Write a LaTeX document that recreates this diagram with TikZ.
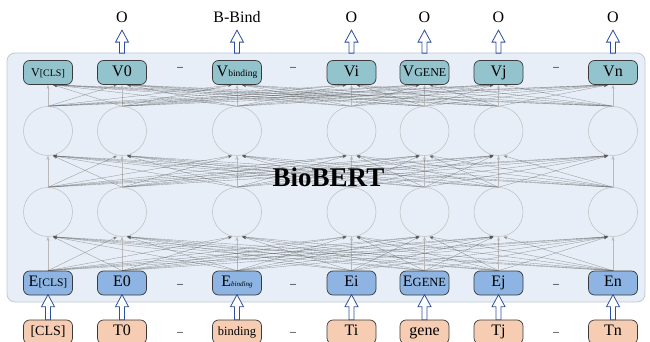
\documentclass[tikz,border=0pt]{standalone}
\usepackage{fontspec}
\setmainfont{Liberation Serif}
\usetikzlibrary{arrows.meta,calc}
\definecolor{panelfill}{HTML}{E7EEF7}
\definecolor{panelline}{HTML}{C3C9D1}
\definecolor{vfill}{HTML}{93C3CC}
\definecolor{efill}{HTML}{8DB4E2}
\definecolor{tfill}{HTML}{F6CDB3}
\definecolor{boxline}{HTML}{3A3A3A}
\definecolor{circline}{HTML}{BDBDBD}
\definecolor{linegray}{HTML}{555555}
\definecolor{arrowblue}{HTML}{2E4F9E}
\pgfdeclarelayer{panel}
\pgfdeclarelayer{edges}
\pgfsetlayers{panel,edges,main}
\newcommand\fs[1]{\fontsize{#1}{#1}\selectfont}
\begin{document}
\begin{tikzpicture}[x=1pt,y=-1pt,
 box/.style={draw=boxline, line width=0.7pt, rounded corners=6pt, minimum width=49pt, minimum height=24pt, inner sep=0pt, text height=10.5pt, text depth=3pt, font=\fs{16}},
 vbox/.style={box, fill=vfill},
 ebox/.style={box, fill=efill},
 tbox/.style={box, fill=tfill},
 neuron/.style={circle, draw=circline, line width=0.5pt, minimum size=49pt, inner sep=0pt},
 cross/.style={draw=linegray, line width=0.35pt, opacity=0.55, -{Stealth[length=4pt,width=3pt]}},
 straight/.style={draw=gray!55, line width=0.35pt, -{Stealth[length=4pt,width=3pt]}},
 hollow/.style={draw=arrowblue, fill=white, line width=0.8pt, line join=miter},
 pics/hup/.style={code={\path[hollow] (-2.5,0) -- (-2.5,-#1+12) -- (-6.5,-#1+12) -- (0,-#1) -- (6.5,-#1+12) -- (2.5,-#1+12) -- (2.5,0) -- cycle;}},
 dots/.style={font=\fs{8}\bfseries, anchor=base, inner sep=0pt},
 lab/.style={font=\fs{16}, anchor=base, inner sep=0pt}
]
\useasboundingbox (0,0) rectangle (650,342);
\begin{pgfonlayer}{panel}
\path[draw=panelline, fill=panelfill, line width=0.8pt, rounded corners=8pt] (7,53) rectangle (645,302);
\end{pgfonlayer}
% columns
\def\xa{48}\def\xb{122}\def\xc{237}\def\xd{351.5}\def\xe{424.5}\def\xf{498.5}\def\xg{613}
% V row
\node[vbox] (v1) at (\xa,72.5) {\fs{12}V\fs{10}[CLS]};
\node[vbox] (v2) at (\xb,72.5) {V0};
\node[vbox] (v3) at (\xc,72.5) {V\fs{9.5}binding};
\node[vbox] (v4) at (\xd,72.5) {Vi};
\node[vbox] (v5) at (\xe,72.5) {V\fs{12}GENE};
\node[vbox] (v6) at (\xf,72.5) {Vj};
\node[vbox] (v7) at (\xg,72.5) {Vn};
% neurons
\foreach \n/\x in {1/\xa,2/\xb,3/\xc,4/\xd,5/\xe,6/\xf,7/\xg}{
  \node[neuron] (ca\n) at (\x,131) {};
  \node[neuron] (cb\n) at (\x,212) {};
}
% E row
\node[ebox] (e1) at (\xa,283) {E\fs{11.5}[CLS]};
\node[ebox] (e2) at (\xb,283) {E0};
\node[ebox] (e3) at (\xc,283) {E\fs{7}\itshape binding};
\node[ebox] (e4) at (\xd,283) {Ei};
\node[ebox] (e5) at (\xe,283) {E\fs{12.5}GENE};
\node[ebox] (e6) at (\xf,283) {Ej};
\node[ebox] (e7) at (\xg,283) {En};
% T row
\node[tbox] (t1) at (\xa,332) {\fs{14}[CLS]};
\node[tbox] (t2) at (\xb,332) {T0};
\node[tbox] (t3) at (\xc,332) {\fs{12.5}binding};
\node[tbox] (t4) at (\xd,332) {Ti};
\node[tbox] (t5) at (\xe,332) {gene};
\node[tbox] (t6) at (\xf,332) {Tj};
\node[tbox] (t7) at (\xg,332) {Tn};
% dots
\foreach \x in {180,293,556}{
  \node[dots] at (\x,69) {...};
  \node[dots] at (\x,285) {...};
  \node[dots] at (\x,333) {...};
}
% output labels
\node[lab] (o2) at (\xb,23) {O};
\node[lab] (o3) at (\xc,23) {B-Bind};
\node[lab] (o4) at (\xd,23) {O};
\node[lab] (o5) at (\xe,23) {O};
\node[lab] (o6) at (\xf,23) {O};
\node[lab] (o7) at (\xg,23) {O};
% BioBERT
\node[font=\fs{27}\bfseries, anchor=base, inner sep=0pt] (bert) at (328.5,186) {BioBERT};
% hollow arrows
\foreach \n in {2,...,7}{ \pic at ([yshift=7pt]v\n.north) {hup=23}; }
\foreach \n in {1,...,7}{ \pic at (t\n.north) {hup=25}; }
% connections
\begin{pgfonlayer}{edges}
\foreach \i in {1,...,7}{
  \foreach \j in {1,...,7}{
    \ifnum\i=\j
      \draw[straight] (e\j.north) -- (cb\i.south);
      \draw[straight] (cb\j.north) -- (ca\i.south);
      \draw[straight] (ca\j.north) -- (v\i.south);
    \else
      \ifnum\j<\i \def\off{-5}\else\def\off{5}\fi
      \draw[cross] (e\j.north) -- ([xshift=\off pt]cb\i.south);
      \draw[cross] (cb\j.north) -- ([xshift=\off pt]ca\i.south);
      \draw[cross] (ca\j.north) -- ([xshift=\off pt]v\i.south);
    \fi
  }
}
\end{pgfonlayer}
\end{tikzpicture}
\end{document}
